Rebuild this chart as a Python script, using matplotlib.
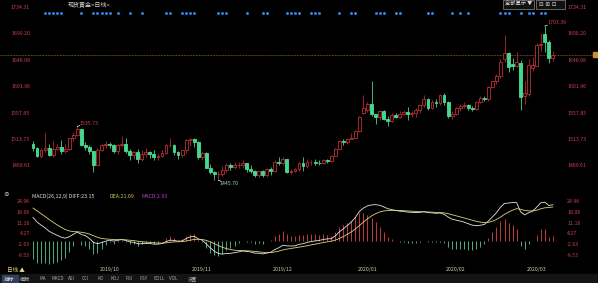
import matplotlib
matplotlib.use("Agg")
import matplotlib.pyplot as plt
from matplotlib.patches import Rectangle
from matplotlib.transforms import blended_transform_factory as blend

plt.rcParams["font.family"] = ["Noto Sans CJK SC", "DejaVu Sans"]

# spot gold daily candles, 2019-09-09 .. 2020-03-11
opens = [1506, 1499, 1486, 1497, 1499, 1488, 1498, 1501, 1494, 1498, 1516, 1522, 1531, 1504, 1501, 1494,
         1472, 1496, 1504, 1507, 1505, 1494, 1504, 1506, 1494, 1488, 1493, 1481, 1490, 1493, 1489, 1484,
         1487, 1492, 1504, 1505, 1493, 1488, 1496,
         1513, 1514, 1509, 1484, 1491, 1467, 1459, 1456, 1456.6, 1463, 1471, 1468, 1471, 1472, 1474, 1464,
         1462, 1455, 1461, 1454,
         1464, 1462, 1477, 1474, 1481, 1460, 1462, 1464, 1475, 1470, 1476, 1476.5, 1475, 1474, 1479, 1478,
         1487, 1498, 1511, 1510, 1515,
         1517, 1528, 1558, 1563, 1574, 1556, 1552, 1562, 1548, 1545, 1555, 1552, 1557, 1560, 1557, 1558,
         1563, 1571, 1582, 1567, 1577, 1575,
         1589, 1576, 1553, 1556, 1566, 1570, 1572, 1566, 1565, 1576, 1584, 1581, 1601, 1611, 1620, 1648,
         1658, 1640, 1636, 1642,
         1586, 1590, 1633, 1637, 1671, 1691, 1677, 1650]
highs = [1511, 1502, 1500, 1524, 1507, 1511, 1506, 1513, 1507, 1517, 1527, 1535.73, 1532, 1510, 1505, 1495,
         1500, 1506, 1511, 1510, 1506, 1507, 1519, 1516, 1498, 1494, 1498, 1496, 1499, 1495, 1497, 1490,
         1496, 1506, 1517, 1506, 1495, 1497, 1515,
         1517, 1516, 1511, 1494, 1493, 1473, 1462, 1461, 1469, 1474, 1474, 1476, 1477, 1479, 1475, 1471,
         1463, 1462, 1463, 1466,
         1468, 1480, 1485, 1484, 1482, 1465, 1467, 1477, 1485, 1481, 1479, 1481, 1479, 1481, 1481, 1488,
         1499, 1512, 1514, 1517, 1524,
         1530, 1553, 1588, 1576, 1611, 1557, 1563, 1563, 1553, 1558, 1558, 1561, 1563, 1568, 1561, 1567,
         1574, 1588, 1584, 1580, 1582, 1590,
         1592, 1578, 1562, 1568, 1574, 1576, 1574, 1570, 1578, 1586, 1586, 1604, 1612, 1624, 1649, 1689,
         1660, 1650, 1660, 1646,
         1611, 1649, 1652, 1675, 1692, 1703.39, 1680, 1662]
lows = [1495, 1485, 1483, 1493, 1486, 1485, 1496, 1490, 1491, 1497, 1511, 1519, 1503, 1497, 1490, 1460,
        1470, 1494, 1500, 1499, 1492, 1490, 1502, 1492, 1480, 1482, 1475, 1478, 1484, 1483, 1480, 1480,
        1485, 1489, 1502, 1488, 1482, 1484, 1491,
        1503, 1502, 1481, 1479, 1466, 1456, 1447, 1445.7, 1453, 1460, 1463, 1465, 1467, 1466, 1460, 1458,
        1451, 1452, 1452, 1452,
        1454, 1460, 1471, 1472, 1458, 1457, 1459, 1461, 1462, 1467, 1472, 1472, 1471, 1473, 1475, 1477,
        1486, 1498, 1505, 1506, 1514,
        1517, 1526, 1556, 1560, 1553, 1540, 1546, 1546, 1536, 1543, 1549, 1550, 1555, 1547, 1551, 1551,
        1558, 1568, 1564, 1565, 1568, 1572,
        1572, 1550, 1548, 1555, 1561, 1567, 1563, 1562, 1563, 1575, 1578, 1579, 1600, 1607, 1617, 1643,
        1627, 1630, 1635, 1563,
        1573, 1586, 1628, 1636, 1662, 1660, 1641, 1645]
closes = [1499, 1486, 1497, 1499, 1488, 1498, 1501, 1494, 1498, 1516, 1522, 1531, 1504, 1501, 1494, 1472,
          1496, 1504, 1507, 1505, 1494, 1504, 1506, 1494, 1488, 1493, 1481, 1490, 1493, 1489, 1484, 1487,
          1492, 1504, 1505, 1493, 1488, 1496, 1513,
          1514, 1509, 1484, 1491, 1467, 1459, 1456, 1456.6, 1463, 1471, 1468, 1471, 1472, 1474, 1464, 1462,
          1455, 1461, 1454, 1464,
          1462, 1477, 1474, 1481, 1460, 1462, 1464, 1475, 1470, 1476, 1476.5, 1475, 1474, 1479, 1478, 1487,
          1498, 1511, 1510, 1515, 1517,
          1528, 1552, 1566, 1574, 1556, 1552, 1562, 1548, 1545, 1555, 1552, 1557, 1560, 1557, 1558, 1563,
          1571, 1582, 1567, 1577, 1575, 1589,
          1576, 1553, 1556, 1566, 1570, 1572, 1566, 1565, 1576, 1584, 1581, 1601, 1611, 1620, 1643, 1659,
          1635, 1636, 1643, 1585,
          1592, 1639, 1638, 1671, 1674, 1677, 1650, 1655.6]

# MACD(26,12,9) panel values
diff = [15.0, 12.0, 10.0, 8.2, 6.0, 4.6, 3.4, 2.2, 1.6, 2.5, 4.0, 5.5, 4.0, 3.2, 1.4, -1.2,
        -2.0, -1.3, -0.4, 0.3, -0.3, 0.2, 0.7, 0.1, -0.8, -1.1, -2.0, -2.0, -1.8, -1.9, -2.3, -2.3,
        -1.9, -0.7, 0.3, 0.1, -0.4, -0.2, 1.3,
        2.4, 2.8, 1.1, 0.3, -2.2, -4.7, -6.8, -8.3, -8.7, -8.3, -8.2, -7.8, -7.3, -6.7, -7.0, -7.3,
        -8.1, -8.1, -8.6, -8.0,
        -7.5, -5.8, -4.6, -3.0, -3.4, -3.5, -3.4, -2.4, -2.0, -1.2, -0.6, -0.2, 0.1, 0.7, 1.1, 1.2,
        3.0, 5.6, 7.6, 9.8, 12.0,
        15.0, 18.8, 21.0, 22.4, 23.0, 23.2, 22.8, 21.8, 20.6, 20.0, 19.4, 19.0, 18.7, 18.4, 18.2, 18.1,
        18.2, 18.6, 18.0, 17.9, 17.6, 17.8,
        17.0, 15.2, 13.8, 13.2, 12.6, 11.9, 10.9, 10.0, 9.6, 9.9, 10.4, 12.6, 15.3, 18.0, 21.5, 24.0,
        24.2, 24.6, 24.5, 18.5,
        16.6, 18.0, 19.0, 21.6, 24.4, 24.8, 22.6, 23.15]
dea = [21.0, 19.2, 17.36, 15.53, 13.62, 11.82, 10.14, 8.55, 7.16, 6.23, 5.78, 5.72, 5.38, 4.94, 4.23, 3.14,
       2.11, 1.43, 1.06, 0.91, 0.67, 0.58, 0.60, 0.50, 0.24, -0.03, -0.42, -0.74, -0.95, -1.14, -1.37, -1.56,
       -1.63, -1.44, -1.09, -0.85, -0.76, -0.65, -0.26,
       0.27, 0.78, 0.84, 0.73, 0.14, -0.83, -2.02, -3.28, -4.36, -5.15, -5.76, -6.17, -6.40, -6.46, -6.57,
       -6.72, -7.00, -7.22, -7.50, -7.79,
       -7.73, -7.34, -6.79, -6.03, -5.50, -5.10, -4.76, -4.29, -3.83, -3.30, -2.76, -2.25, -1.78, -1.28,
       -0.80, -0.40, 0.28, 1.34, 2.59, 4.03, 5.62,
       7.50, 9.76, 12.01, 14.09, 15.87, 17.34, 18.43, 19.10, 19.40, 19.52, 19.50, 19.40, 19.26, 19.09, 18.91,
       18.75, 18.64, 18.63, 18.50, 18.38, 18.22, 18.14,
       17.91, 17.37, 16.66, 15.97, 15.29, 14.61, 13.87, 13.10, 12.40, 11.90, 11.60, 11.80, 12.50, 13.60,
       15.18, 16.94, 18.39, 19.63, 20.60, 20.18,
       19.46, 19.17, 19.14, 19.63, 20.50, 21.16, 21.33, 21.69]
macd_bar = [-12.0, -14.4, -14.7, -14.7, -15.2, -14.4, -13.5, -12.7, -11.1, -7.5, -3.6, -0.4, -2.8, -3.5, -5.7, -8.7,
            -8.2, -5.5, -2.9, -1.2, -1.9, -0.8, 0.2, -0.8, -2.1, -2.1, -3.2, -2.5, -1.7, -1.5, -1.9, -1.5,
            -0.5, 1.5, 2.8, 1.9, 0.7, 0.9, 3.1,
            4.3, 4.0, 0.5, -0.9, -4.7, -7.7, -9.6, -10.0, -8.7, -6.3, -4.9, -3.3, -1.8, -0.5, -0.9, -1.2,
            -2.2, -1.8, -2.2, -0.4,
            0.5, 3.1, 4.4, 6.1, 4.2, 3.2, 2.7, 3.8, 3.7, 4.2, 4.3, 4.1, 3.8, 4.0, 3.8, 3.2,
            5.4, 8.5, 10.0, 11.5, 12.8,
            15.0, 18.1, 18.0, 16.6, 14.3, 11.7, 8.7, 5.4, 2.4, 1.0, -0.2, -0.8, -1.1, -1.4, -1.4, -1.3,
            -0.9, -0.1, -1.0, -1.0, -1.2, -0.7,
            -1.8, -4.3, -5.7, -5.5, -5.4, -5.4, -5.9, -6.2, -5.6, -4.0, -2.4, 1.6, 5.6, 8.8, 12.6, 14.1,
            11.6, 9.9, 7.8, -3.4,
            -5.7, -2.3, -0.3, 3.9, 7.8, 7.3, 2.5, 2.93]

price_ticks = [1469.61, 1513.73, 1557.85, 1601.96, 1646.08, 1690.20, 1734.31]
macd_ticks = [-9.53, -2.63, 4.27, 11.16, 18.06, 24.96]
month_labels = ["2019/10", "2019/11", "2019/12", "2020/01", "2020/02", "2020/03"]
month_first_bar = [16, 39, 59, 80, 102, 122]
signal_bars = [3, 4, 5, 6, 7, 12, 15, 16, 17, 18, 19, 21, 24, 27, 33, 34, 37, 38, 39, 40,
               46, 47, 48, 53, 57, 58, 63, 64, 65, 66, 69, 70, 71, 76, 79, 80, 85, 86, 87,
               90, 91, 98, 99, 104, 106, 108, 116, 117, 118, 121, 123, 124, 126, 127]
high_bar, high_val = 127, 1703.39
peak_bar, peak_val = 11, 1535.73
low_bar, low_val = 46, 1445.70
last_price = closes[-1]
toolbar_items = ["MA", "MACD", "ASI", "CCI", "KD", "KDJ", "RSI", "PSY", "BOLL", "VOL", "设置"]

# colours
BG = "#000000"
UP = "#b02c2e"
DOWN = "#45d690"
TICK_RED = "#cf3f52"
HIST_UP = "#c03c3c"
HIST_DOWN = "#4fae80"

W, H = 598, 283
fig = plt.figure(figsize=(W / 100, H / 100), dpi=100, facecolor=BG)


def panel(left, top, width, height):
    ax = fig.add_axes([left / W, 1 - (top + height) / H, width / W, height / H])
    ax.set_axis_off()
    return ax


def fy(top_px):
    return 1 - top_px / H


step = 4.03  # pixels per bar
x_left = (30 - 33) / step
n = len(closes)
idx = list(range(n))

# ---- price panel ----
ax = panel(30, 0, 528, 187)
ax.set_xlim(x_left, x_left + 528 / step)
ax.set_ylim(1434.5, 1747.0)

is_up = [c >= o for o, c in zip(opens, closes)]
edge = [UP if u else DOWN for u in is_up]
face = [BG if u else DOWN for u in is_up]
bottoms = [min(o, c) for o, c in zip(opens, closes)]
heights = [max(abs(c - o), 0.6) for o, c in zip(opens, closes)]

ax.vlines(idx, lows, highs, colors=edge, linewidth=0.6, zorder=2)
ax.bar(idx, heights, bottom=bottoms, width=0.7, color=face, edgecolor=edge,
       linewidth=0.65, zorder=3)

# signal dots along the top
ax.scatter(signal_bars, [0.93] * len(signal_bars), s=4.5, color="#2f86e6",
           transform=blend(ax.transData, ax.transAxes), zorder=4, linewidths=0)

# current price line
ax.plot([-30 / 528, 563 / 528], [last_price, last_price], color="#c8823c",
        linewidth=0.5, linestyle=(0, (1, 1.2)), transform=blend(ax.transAxes, ax.transData),
        clip_on=False, zorder=1)
fig.add_artist(Rectangle((593 / W, fy(57)), 5 / W, 5 / H, transform=fig.transFigure,
                         color="#d08a3a"))

# extreme value notes
ax.plot([high_bar, high_bar + 0.6], [high_val, high_val + 1.5], color="white", lw=0.5)
ax.text(high_bar + 0.6, high_val + 1.5, f"{high_val:.2f}", color=TICK_RED, fontsize=3.8,
        ha="left", va="bottom")
ax.plot([peak_bar, peak_bar + 0.6], [peak_val, peak_val + 1.5], color="white", lw=0.5)
ax.text(peak_bar + 0.6, peak_val + 1.5, f"{peak_val:.2f}", color=TICK_RED, fontsize=3.8,
        ha="left", va="bottom")
ax.plot([low_bar, low_bar + 0.6], [low_val, low_val - 1.5], color="white", lw=0.5)
ax.text(low_bar + 0.3, low_val - 1.5, f"{low_val:.2f}", color="#8fd9b0", fontsize=3.8,
        ha="left", va="top", clip_on=False)

price_y = blend(fig.transFigure, ax.transData)
for v in price_ticks:
    fig.text(30 / W, v, f"{v:.2f}", transform=price_y, color=TICK_RED, fontsize=3.8,
             ha="right", va="center")
    fig.text(567 / W, v, f"{v:.2f}", transform=price_y, color=TICK_RED, fontsize=3.8,
             ha="left", va="center")

# ---- MACD panel ----
ax2 = panel(30, 190, 528, 76)
ax2.set_xlim(x_left, x_left + 528 / step)
ax2.set_ylim(-16.38, 32.63)
ax2.vlines(idx, 0, macd_bar, colors=[HIST_UP if v > 0 else HIST_DOWN for v in macd_bar],
           linewidth=0.7)
ax2.plot(idx, diff, color="#e4e4e4", linewidth=0.6)
ax2.plot(idx, dea, color="#e0d27a", linewidth=0.6)

macd_y = blend(fig.transFigure, ax2.transData)
for v in macd_ticks:
    fig.text(30 / W, v, f"{v:.2f}", transform=macd_y, color=TICK_RED, fontsize=3.8,
             ha="right", va="center")
    fig.text(567 / W, v, f"{v:.2f}", transform=macd_y, color=TICK_RED, fontsize=3.8,
             ha="left", va="center")

fig.text(32 / W, fy(196), f"MACD(26,12,9) DIFF:{diff[-1]:.2f}", color="#e0e0e0",
         fontsize=3.8, va="center")
fig.text(110 / W, fy(196), f"DEA:{dea[-1]:.2f}", color="#d2d250", fontsize=3.8, va="center")
fig.text(142 / W, fy(196), f"MACD:{macd_bar[-1]:.2f}", color="#c040c8", fontsize=3.8,
         va="center")
fig.text(3 / W, fy(195), "⊗", color="#c8c8c8", fontsize=4, va="center")

# month labels
month_x = blend(ax2.transData, fig.transFigure)
for m, lab in zip(month_first_bar, month_labels):
    fig.text(m + 0.5, fy(270), lab, transform=month_x, color="#d6d0a8", fontsize=3.8,
             ha="left", va="center")

# ---- header ----
fig.text(68 / W, fy(4.5), "现货黄金<日线>", color="#d8d8d8", fontsize=4.3, va="center")
fig.add_artist(Rectangle((503 / W, fy(9)), 31 / W, 9 / H, transform=fig.transFigure,
                         facecolor="#111111", edgecolor="#8a8a8a", linewidth=0.5))
fig.text(505 / W, fy(4.5), "全部显示 ▼", color="#d8d8d8", fontsize=3.8, va="center")
fig.add_artist(Rectangle((536 / W, fy(9)), 29 / W, 9 / H, transform=fig.transFigure,
                         facecolor="#111111", edgecolor="#8a8a8a", linewidth=0.5))
fig.text(539 / W, fy(4.5), "⊟ ⊞ ⊡", color="#cfcfcf", fontsize=4, va="center",
         family="DejaVu Sans")

# ---- bottom toolbar ----
fig.text(7 / W, fy(270), "日线 ▲", color="#e8d88c", fontsize=4, va="center")
fig.add_artist(Rectangle((0, 0), 1, 9 / H, transform=fig.transFigure, color="#141414"))
fig.add_artist(Rectangle((2 / W, 0.5 / H), 16 / W, 8 / H, transform=fig.transFigure,
                         color="#33405c"))
fig.text(4 / W, fy(279), "指标", color="#e6e6e6", fontsize=3.8, va="center")
fig.text(20 / W, fy(279), "模板", color="#bdbdbd", fontsize=3.8, va="center")
toolbar_x = [39, 51, 68, 82, 98, 111, 126, 140, 154, 169, 188]
for tx, item in zip(toolbar_x, toolbar_items):
    fig.text(tx / W, fy(279), item, color="#a8a8a8", fontsize=3.3, va="center")

fig.savefig("out.png", dpi=100, facecolor=BG)
